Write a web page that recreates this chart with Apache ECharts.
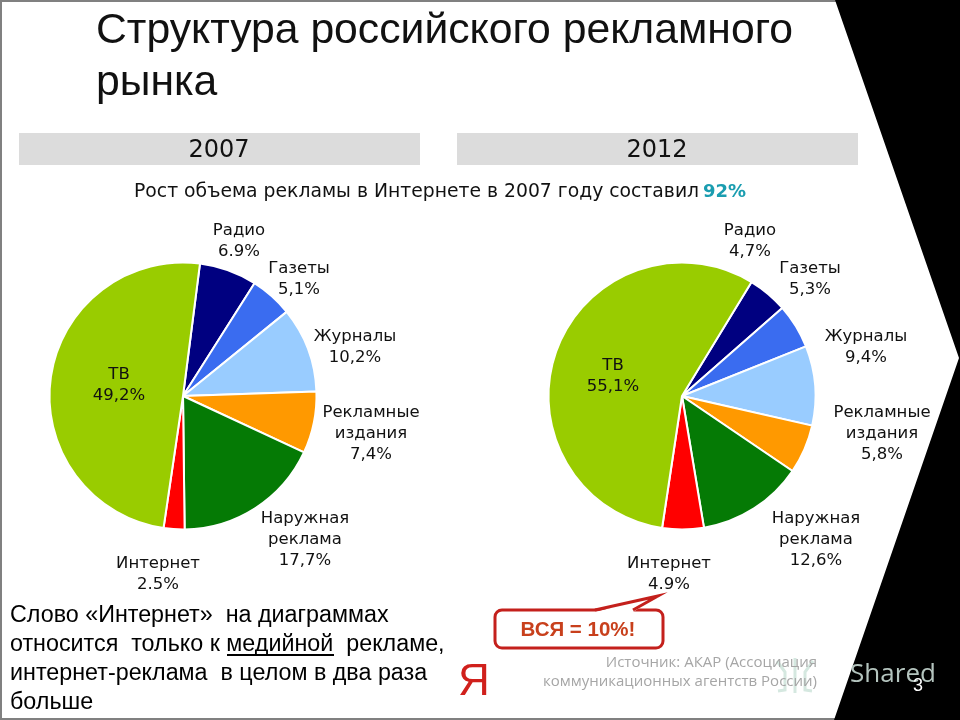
<!DOCTYPE html>
<html>
<head>
<meta charset="utf-8">
<style>html,body{margin:0;padding:0;background:#fff}#main{width:960px;height:720px}</style>
<script src="https://cdn.jsdelivr.net/npm/echarts@6/dist/echarts.min.js"></script>
</head>
<body>
<div id="main"></div>
<script>
var categories = ['Радио', 'Газеты', 'Журналы', 'Рекламные\nиздания', 'Наружная\nреклама', 'Интернет', 'ТВ'];
var values2007 = [6.9, 5.1, 10.2, 7.4, 17.7, 2.5, 49.2];
var values2012 = [4.7, 5.3, 9.4, 5.8, 12.6, 4.9, 55.1];
var text2007 = ['6.9%', '5,1%', '10,2%', '7,4%', '17,7%', '2.5%', '49,2%'];
var text2012 = ['4,7%', '5,3%', '9,4%', '5,8%', '12,6%', '4.9%', '55,1%'];
var colors = ['#000080', '#3A6CF0', '#99CCFF', '#FF9900', '#057A05', '#FF0000', '#99CC00'];

// центры подписей на странице
var labelPos2007 = [[239, 241], [299, 279], [355, 347], [371, 434], [305, 540], [158, 574], [119, 385]];
var labelPos2012 = [[750, 241], [810, 279], [866, 347], [882, 434], [816, 540], [669, 574], [613, 376]];

var sans = '"Liberation Sans", Arial, sans-serif';
var labelFont = '"DejaVu Sans", Tahoma, sans-serif';

function makeData(values, texts) {
    return values.map(function (v, i) {
        return { name: categories[i], value: v, pct: texts[i], itemStyle: { color: colors[i] } };
    });
}

function makePie(center, startAngle, values, texts, pos) {
    return {
        type: 'pie',
        center: center,
        radius: [0, 133.5],
        startAngle: startAngle,
        clockwise: true,
        animation: false,
        silent: true,
        z: 5,
        itemStyle: { borderColor: '#fff', borderWidth: 2 },
        label: {
            show: true,
            position: 'inside',
            rotate: 0,
            color: '#111',
            fontFamily: labelFont,
            fontSize: 16.5,
            lineHeight: 21,
            align: 'center',
            formatter: function (p) { return p.name + '\n' + p.data.pct; }
        },
        labelLine: { show: false },
        labelLayout: function (p) {
            return { x: pos[p.dataIndex][0], y: pos[p.dataIndex][1], align: 'center', verticalAlign: 'middle' };
        },
        data: makeData(values, texts)
    };
}

function txt(x, y, style) {
    style.fontFamily = style.fontFamily || sans;
    style.verticalAlign = 'middle';
    return { type: 'text', x: x, y: y, z: 20, silent: true, style: style };
}

function bodyLine(y, s) {
    return txt(10, y, { text: s, fontSize: 23.3, fill: '#000' });
}

var myChart = echarts.init(document.getElementById('main'), null, { renderer: 'canvas' });
var option = {
    backgroundColor: '#fff',
    animation: false,
    series: [
        makePie([183, 396], 82.7, values2007, text2007, labelPos2007),
        makePie([682, 396], 58.6, values2012, text2012, labelPos2012)
    ],
    graphic: [
        // рамка слайда и черная стрелка справа
        { type: 'rect', z: 1, shape: { x: 0, y: 0, width: 960, height: 2 }, style: { fill: '#808080' } },
        { type: 'rect', z: 1, shape: { x: 0, y: 0, width: 2, height: 720 }, style: { fill: '#808080' } },
        { type: 'rect', z: 1, shape: { x: 0, y: 718, width: 960, height: 2 }, style: { fill: '#808080' } },
        { type: 'polygon', z: 2, shape: { points: [[835, 0], [960, 0], [960, 720], [834, 720], [959, 358]] }, style: { fill: '#000' } },

        txt(96, 31, { text: 'Структура российского рекламного', fontSize: 42.7, fill: '#111' }),
        txt(96, 83, { text: 'рынка', fontSize: 42.7, fill: '#111' }),

        { type: 'rect', z: 3, shape: { x: 19, y: 133, width: 401, height: 32 }, style: { fill: '#DCDCDC' } },
        { type: 'rect', z: 3, shape: { x: 457, y: 133, width: 401, height: 32 }, style: { fill: '#DCDCDC' } },
        txt(219, 151, { text: '2007', fontFamily: labelFont, fontSize: 24, fill: '#111', align: 'center' }),
        txt(657, 151, { text: '2012', fontFamily: labelFont, fontSize: 24, fill: '#111', align: 'center' }),

        txt(134, 192, { text: 'Рост объема рекламы в Интернете в 2007 году составил', fontFamily: labelFont, fontSize: 18.8, fill: '#111' }),
        txt(703, 192, { text: '92%', fontFamily: labelFont, fontSize: 18, fontWeight: 'bold', fill: '#1A9DB0' }),

        bodyLine(616, 'Слово «Интернет»  на диаграммах'),
        bodyLine(645, 'относится  только к медийной  рекламе,'),
        bodyLine(674, 'интернет-реклама  в целом в два раза'),
        bodyLine(703, 'больше'),
        { type: 'rect', z: 20, shape: { x: 227, y: 654, width: 107, height: 2 }, style: { fill: '#000' } },

        // выноска "ВСЯ = 10%"
        { type: 'rect', z: 15, shape: { x: 495, y: 610, width: 168, height: 38, r: 7 }, style: { fill: '#fff', stroke: '#C4201C', lineWidth: 3 } },
        { type: 'polygon', z: 16, shape: { points: [[595, 612], [658, 596], [633, 612]] }, style: { fill: '#fff' } },
        { type: 'polyline', z: 17, shape: { points: [[595, 610], [658, 596], [633, 610]] }, style: { fill: 'none', stroke: '#C4201C', lineWidth: 3 } },
        txt(578, 630, { text: 'ВСЯ = 10%!', fontSize: 20.5, fontWeight: 'bold', fill: '#C8401C', align: 'center' }),

        txt(474, 683, { text: 'Я', fontSize: 44, fill: '#D0201C', align: 'center' }),

        // бледный значок водяного знака
        { type: 'polyline', z: 12, shape: { points: [[777, 661], [785, 672], [785, 690], [778, 691]] }, style: { fill: 'none', stroke: '#D5E8E0', lineWidth: 3 } },
        { type: 'polyline', z: 12, shape: { points: [[813, 661], [805, 672], [805, 690], [812, 691]] }, style: { fill: 'none', stroke: '#D5E8E0', lineWidth: 3 } },
        { type: 'line', z: 12, shape: { x1: 795, y1: 658, x2: 795, y2: 693 }, style: { stroke: '#D5E8E0', lineWidth: 3 } },

        txt(817, 663, { text: 'Источник: АКАР (Ассоциация', fontFamily: '"Open Sans", sans-serif', fontSize: 15, fill: '#A6A6A6', align: 'right' }),
        txt(817, 682, { text: 'коммуникационных агентств России)', fontFamily: '"Open Sans", sans-serif', fontSize: 15, fill: '#A6A6A6', align: 'right' }),

        txt(893, 675, { text: 'Shared', fontFamily: '"Open Sans", sans-serif', fontSize: 26, fill: '#B4C4BE', align: 'center' }),
        txt(918, 686, { text: '3', fontSize: 18, fill: '#fff', align: 'center' })
    ]
};
myChart.setOption(option, true);
</script>
</body>
</html>
